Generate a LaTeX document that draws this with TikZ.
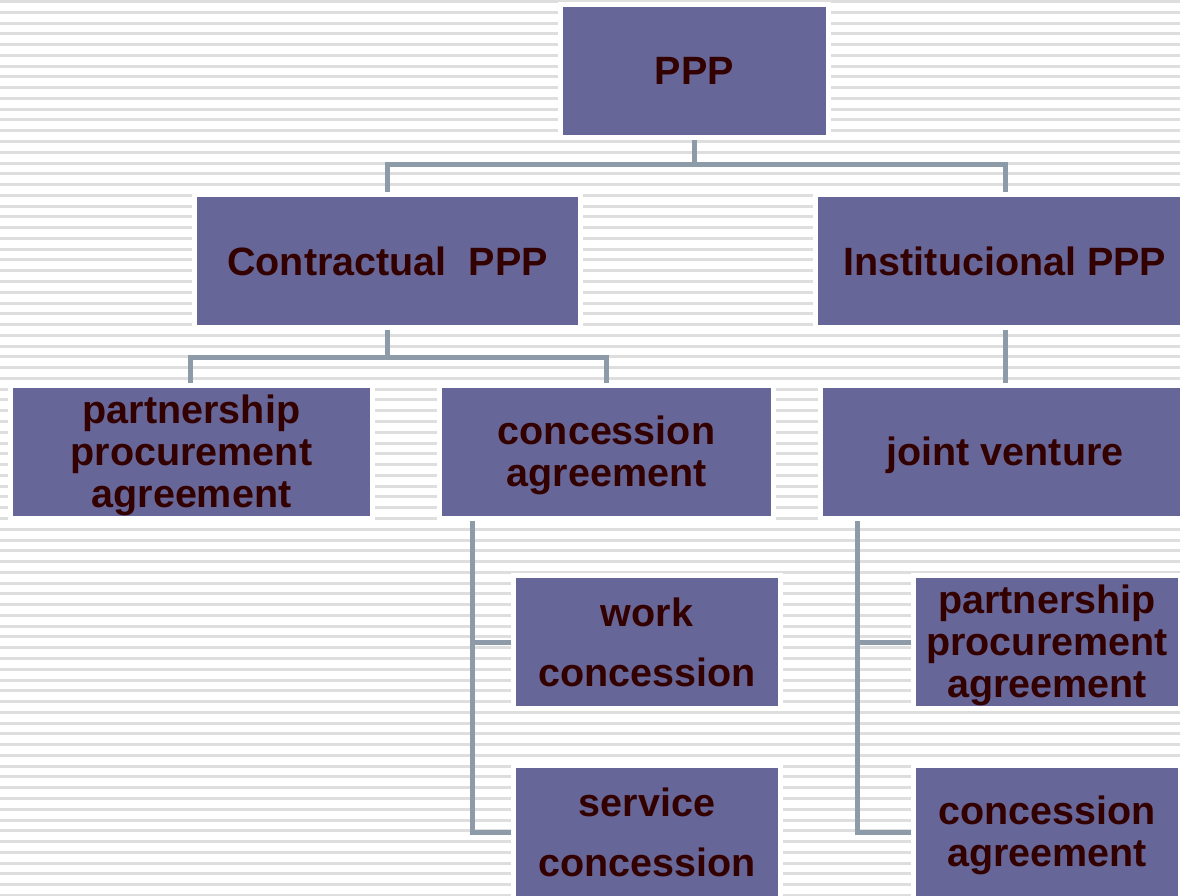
\documentclass[tikz,border=0pt]{standalone}
\usepackage{fontspec}
\setmainfont{Liberation Sans}
\usetikzlibrary{calc}
\definecolor{boxc}{HTML}{666699}
\definecolor{txtc}{HTML}{330000}
\definecolor{connc}{HTML}{8C9BA7}
\definecolor{stripec}{HTML}{DEDEDE}
\pgfdeclarelayer{bg}
\pgfdeclarelayer{lines}
\pgfsetlayers{bg,lines,main}
\tikzset{
  box/.style={fill=boxc, draw=white, line width=5pt, inner sep=0pt, text=txtc,
    align=center, font=\fontsize{39.5}{42}\selectfont\bfseries},
  wide/.style={font=\fontsize{39.5}{60}\selectfont\bfseries},
  lower/.style={execute at begin node={\rule{0pt}{35pt}}},
  multi/.style={text depth=1pt},
  conn/.style={draw=connc, line width=5pt},
  stripe/.style={draw=stripec, line width=3pt}
}
\begin{document}
\begin{tikzpicture}[x=1pt,y=-1pt]
\useasboundingbox (0,0) rectangle (1180,896);
\clip (0,0) rectangle (1180,896);
\begin{pgfonlayer}{bg}
  \fill[white] (0,0) rectangle (1180,896);
  \foreach \i in {0,...,83} {
    \draw[stripe] (0,{1.5+10.77*\i}) -- (1180,{1.5+10.77*\i});
  }
\end{pgfonlayer}
% nodes
\node[box, minimum width=268pt, minimum height=133pt] (ppp) at (694.5,71) {PPP};
\node[box, minimum width=386pt, minimum height=133pt] (contr) at (387.5,261) {Contractual\ \ PPP};
\node[box, minimum width=379pt, minimum height=133pt] (inst) at (1005,261) {Institucional PPP};
\node[box, multi, minimum width=362pt, minimum height=133pt] (ppa1) at (191.5,452) {partnership\\procurement\\agreement};
\node[box, multi, minimum width=334pt, minimum height=133pt] (conc1) at (606.5,452) {concession\\agreement};
\node[box, lower, minimum width=369pt, minimum height=133pt] (jv) at (1005,452) {joint venture};
\node[box, wide, minimum width=267pt, minimum height=133pt] (work) at (647,642) {work\\concession};
\node[box, wide, minimum width=267pt, minimum height=133pt] (serv) at (647,832) {service\\concession};
\node[box, multi, minimum width=267pt, minimum height=133pt] (ppa2) at (1047,642) {partnership\\procurement\\agreement};
\node[box, multi, minimum width=267pt, minimum height=133pt] (conc2) at (1047,832) {concession\\agreement};
\coordinate (lb) at (472,521);
\coordinate (rb) at (857,521);
% connectors
\begin{pgfonlayer}{lines}
  \draw[conn] (ppp.south) -- (ppp.south |- 0,165);
  \draw[conn] (contr.north) -- (contr.north |- 0,165) -- (inst.north |- 0,165) -- (inst.north);
  \draw[conn] (contr.south) -- (contr.south |- 0,357);
  \draw[conn] (ppa1.north -| 190,0) -- (190,357) -- (conc1.north |- 0,357) -- (conc1.north);
  \draw[conn] (inst.south) -- (jv.north);
  \draw[conn] (lb) |- (serv.west);
  \draw[conn] (lb |- work.west) -- (work.west);
  \draw[conn] (rb) |- (conc2.west);
  \draw[conn] (rb |- ppa2.west) -- (ppa2.west);
\end{pgfonlayer}
\end{tikzpicture}
\end{document}
